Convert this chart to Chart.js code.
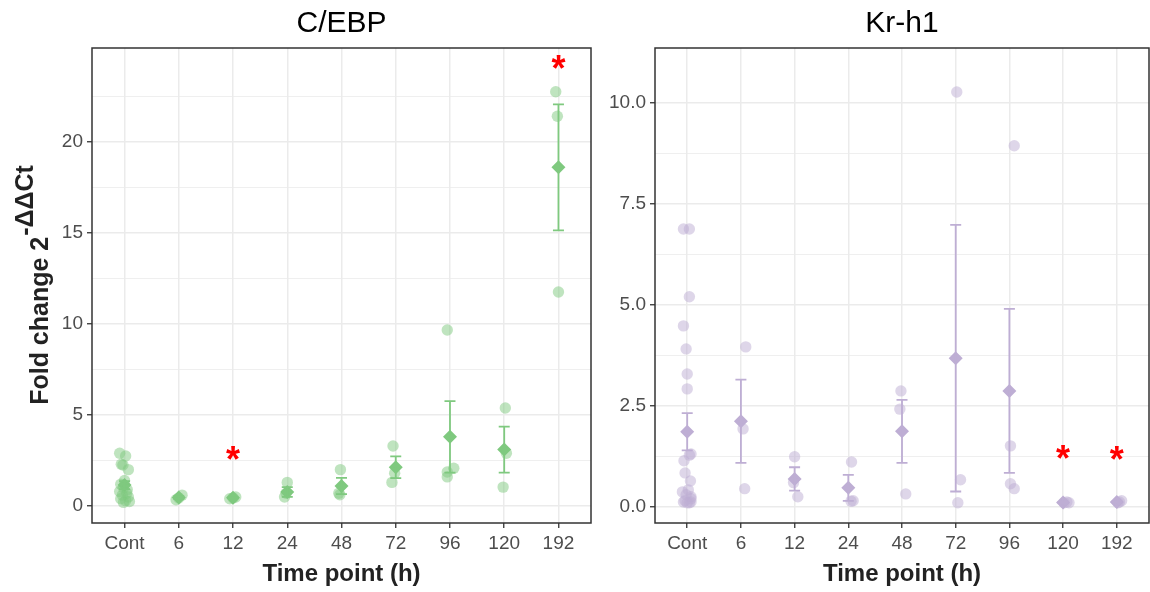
<!DOCTYPE html>
<html>
<head>
<meta charset="utf-8">
<script src="https://cdn.jsdelivr.net/npm/chart.js@4.4.0/dist/chart.umd.min.js"></script>
<style>
html, body { margin: 0; padding: 0; background: #fff; overflow: hidden; }
#wrap { position: relative; width: 1150px; height: 592px; overflow: hidden; }
.box { position: absolute; top: 0; height: 592px; }
</style>
</head>
<body>
<div id="wrap">
  <div class="box" style="left:0;width:600px"><canvas id="cebp"></canvas></div>
  <div class="box" style="left:600px;width:564px"><canvas id="krh1"></canvas></div>
</div>
<script>
var timePoints = ["Cont", "6", "12", "24", "48", "72", "96", "120", "192"];

// C/EBP: individual samples per time point, with their horizontal jitter
var cebpValues = [
  [2.9, 2.75, 2.3, 2.25, 2.0, 1.4, 1.2, 1.0, 0.9, 0.8, 0.7, 0.6, 0.5, 0.4, 0.3, 0.25, 0.2],
  [0.35, 0.45, 0.6],
  [0.4, 0.45, 0.5],
  [1.3, 0.5, 0.7],
  [2.0, 0.7, 0.62],
  [3.3, 1.3, 1.8],
  [9.67, 1.87, 1.6, 2.08],
  [5.38, 1.04, 2.9],
  [22.75, 21.4, 11.75]
];
var cebpJitter = [
  [-0.09, 0.02, -0.06, -0.03, 0.07, 0.0, -0.07, -0.02, 0.05, -0.09, 0.04, -0.04, 0.07, -0.07, 0.02, 0.09, -0.02],
  [-0.05, 0.0, 0.06],
  [-0.06, 0.0, 0.05],
  [0.0, -0.05, -0.02],
  [-0.02, -0.05, -0.03],
  [-0.05, -0.07, -0.02],
  [-0.05, -0.05, -0.05, 0.07],
  [0.02, -0.02, 0.04],
  [-0.05, -0.02, 0.0]
];
var cebpMean = [1.15, 0.47, 0.45, 0.77, 1.1, 2.13, 3.8, 3.1, 18.6];
var cebpSE = [0.22, 0.07, 0.03, 0.27, 0.45, 0.6, 1.96, 1.26, 3.46];
var cebpStarAt = [2, 8];
var cebpStarY = [2.9, 24.4];
var cebpMajor = [0, 5, 10, 15, 20];
var cebpMinor = [2.5, 7.5, 12.5, 17.5, 22.5];

// Kr-h1
var krValues = [
  [6.88, 6.88, 5.2, 4.48, 3.91, 3.29, 2.92, 1.31, 1.28, 1.14, 0.84, 0.64, 0.42, 0.37, 0.3, 0.25, 0.2, 0.15, 0.12, 0.12, 0.1, 0.1],
  [3.96, 1.93, 0.45],
  [1.24, 0.6, 0.25],
  [1.11, 0.15, 0.14],
  [2.87, 2.42, 0.32],
  [10.27, 0.67, 0.1],
  [8.94, 1.51, 0.57, 0.45],
  [0.1, 0.1, 0.12],
  [0.1, 0.15, 0.12]
];
var krJitter = [
  [-0.07, 0.04, 0.04, -0.07, -0.02, 0.0, 0.0, 0.07, 0.04, -0.06, -0.04, 0.06, 0.02, -0.09, -0.02, 0.07, 0.07, -0.04, -0.07, 0.07, 0.0, 0.04],
  [0.09, 0.04, 0.07],
  [0.0, -0.02, 0.06],
  [0.06, 0.09, 0.05],
  [-0.02, -0.04, 0.07],
  [0.02, 0.09, 0.04],
  [0.09, 0.02, 0.02, 0.09],
  [0.02, 0.11, 0.07],
  [0.02, 0.09, 0.05]
];
var krMean = [1.86, 2.12, 0.69, 0.47, 1.87, 3.68, 2.87, 0.11, 0.12];
var krSE = [0.46, 1.03, 0.29, 0.32, 0.78, 3.3, 2.03, 0.01, 0.01];
var krStarAt = [7, 8];
var krStarY = [1.36, 1.33];
var krMajor = [0, 2.5, 5, 7.5, 10];
var krMinor = [1.25, 3.75, 6.25, 8.75];

var FONT = "'Liberation Sans', Arial, sans-serif";

function makePanel(id, cfg) {
  var pts = [];
  cfg.values.forEach(function (grp, g) {
    grp.forEach(function (v, k) {
      pts.push({ x: g + cfg.jitter[g][k], y: v });
    });
  });
  var means = cfg.mean.map(function (m, g) { return { x: g, y: m }; });
  var allTicks = cfg.major.concat(cfg.minor).sort(function (a, b) { return a - b; });
  var isMajor = function (v) { return cfg.major.indexOf(v) >= 0; };

  var decor = {
    id: 'decor',
    afterDatasetDraw: function (chart, args) {
      if (args.index !== 0) return;
      var c = chart.ctx, xs = chart.scales.x, ys = chart.scales.y;
      c.save();
      c.strokeStyle = cfg.solid;
      c.lineWidth = 1.8;
      cfg.mean.forEach(function (m, g) {
        var x = xs.getPixelForValue(g);
        var yt = ys.getPixelForValue(m + cfg.se[g]);
        var yb = ys.getPixelForValue(m - cfg.se[g]);
        c.beginPath();
        c.moveTo(x, yt); c.lineTo(x, yb);
        c.moveTo(x - 5.5, yt); c.lineTo(x + 5.5, yt);
        c.moveTo(x - 5.5, yb); c.lineTo(x + 5.5, yb);
        c.stroke();
      });
      c.restore();
    },
    afterDraw: function (chart) {
      var c = chart.ctx, a = chart.chartArea, xs = chart.scales.x, ys = chart.scales.y;
      var cx = (a.left + a.right) / 2;
      c.save();
      // panel border
      c.strokeStyle = '#333333';
      c.lineWidth = 1.5;
      c.strokeRect(a.left, a.top, a.right - a.left, a.bottom - a.top);
      // significance stars
      c.fillStyle = '#FF0000';
      c.font = 'bold 36px ' + FONT;
      c.textAlign = 'center';
      c.textBaseline = 'alphabetic';
      var m = c.measureText('*');
      var off = (m.actualBoundingBoxAscent - m.actualBoundingBoxDescent) / 2;
      cfg.starAt.forEach(function (g, i) {
        c.fillText('*', xs.getPixelForValue(g), ys.getPixelForValue(cfg.starY[i]) + off);
      });
      // title
      c.fillStyle = '#000000';
      c.font = '30px ' + FONT;
      c.textBaseline = 'middle';
      c.fillText(cfg.title, cx, 24);
      // x axis title
      c.fillStyle = '#222222';
      c.font = 'bold 24px ' + FONT;
      c.fillText('Time point (h)', cx, 574);
      // y axis title with superscript
      if (cfg.yTitle) {
        var cy = (a.top + a.bottom) / 2;
        c.translate(48, cy);
        c.rotate(-Math.PI / 2);
        c.textBaseline = 'alphabetic';
        c.textAlign = 'left';
        var base = 'Fold change 2', sup = '-\u0394\u0394Ct';
        c.font = 'bold 25px ' + FONT;
        var w1 = c.measureText(base).width;
        var w2 = c.measureText(sup).width;
        var x0 = -(w1 + w2) / 2;
        c.fillText(base, x0, 0);
        c.fillText(sup, x0 + w1 + 1, -15);
      }
      c.restore();
    }
  };

  return new Chart(document.getElementById(id), {
    type: 'scatter',
    data: {
      datasets: [
        {
          data: pts,
          backgroundColor: cfg.light,
          borderWidth: 0,
          pointRadius: 5.7,
          pointHoverRadius: 5.7
        },
        {
          data: means,
          pointStyle: 'rectRot',
          backgroundColor: cfg.solid,
          borderColor: cfg.solid,
          borderWidth: 0,
          pointRadius: 7,
          pointHoverRadius: 7
        }
      ]
    },
    options: {
      responsive: true,
      maintainAspectRatio: false,
      animation: false,
      events: [],
      layout: { padding: { top: 48, right: cfg.padRight, left: 0, bottom: 0 } },
      plugins: { legend: { display: false }, tooltip: { enabled: false } },
      scales: {
        x: {
          type: 'linear',
          min: -0.6,
          max: 8.6,
          afterBuildTicks: function (s) {
            s.ticks = timePoints.map(function (_, i) { return { value: i }; });
          },
          afterFit: function (s) { s.height = 69; },
          border: { display: false },
          grid: {
            color: '#EBEBEB',
            lineWidth: 1.5,
            tickColor: '#333333',
            tickLength: 5,
            tickWidth: 1.3
          },
          ticks: {
            autoSkip: false,
            maxRotation: 0,
            padding: 4,
            color: '#4D4D4D',
            font: { family: FONT, size: 19 },
            callback: function (v, i) { return timePoints[i]; }
          }
        },
        y: {
          type: 'linear',
          min: cfg.yMin,
          max: cfg.yMax,
          afterBuildTicks: function (s) {
            s.ticks = allTicks.map(function (v) { return { value: v }; });
          },
          afterFit: function (s) { s.width = cfg.yWidth; },
          border: { display: false },
          grid: {
            color: '#EBEBEB',
            lineWidth: function (ctx) { return isMajor(ctx.tick.value) ? 1.5 : 0.8; },
            tickColor: function (ctx) { return isMajor(ctx.tick.value) ? '#333333' : 'rgba(0,0,0,0)'; },
            tickLength: 5,
            tickWidth: 1.3
          },
          ticks: {
            autoSkip: false,
            padding: 4,
            color: '#4D4D4D',
            font: { family: FONT, size: 19 },
            callback: function (v) {
              if (!isMajor(v)) return '';
              return cfg.decimals ? v.toFixed(1) : String(v);
            }
          }
        }
      }
    },
    plugins: [decor]
  });
}

makePanel('cebp', {
  title: 'C/EBP', values: cebpValues, jitter: cebpJitter, mean: cebpMean, se: cebpSE,
  starAt: cebpStarAt, starY: cebpStarY, major: cebpMajor, minor: cebpMinor,
  yMin: -0.93, yMax: 25.15, yWidth: 92, padRight: 9, decimals: false, yTitle: true,
  light: 'rgba(127,201,127,0.5)', solid: '#7FC97F'
});

makePanel('krh1', {
  title: 'Kr-h1', values: krValues, jitter: krJitter, mean: krMean, se: krSE,
  starAt: krStarAt, starY: krStarY, major: krMajor, minor: krMinor,
  yMin: -0.4, yMax: 11.36, yWidth: 55, padRight: 15, decimals: true, yTitle: false,
  light: 'rgba(190,174,212,0.5)', solid: '#BEAED4'
});
</script>
</body>
</html>
